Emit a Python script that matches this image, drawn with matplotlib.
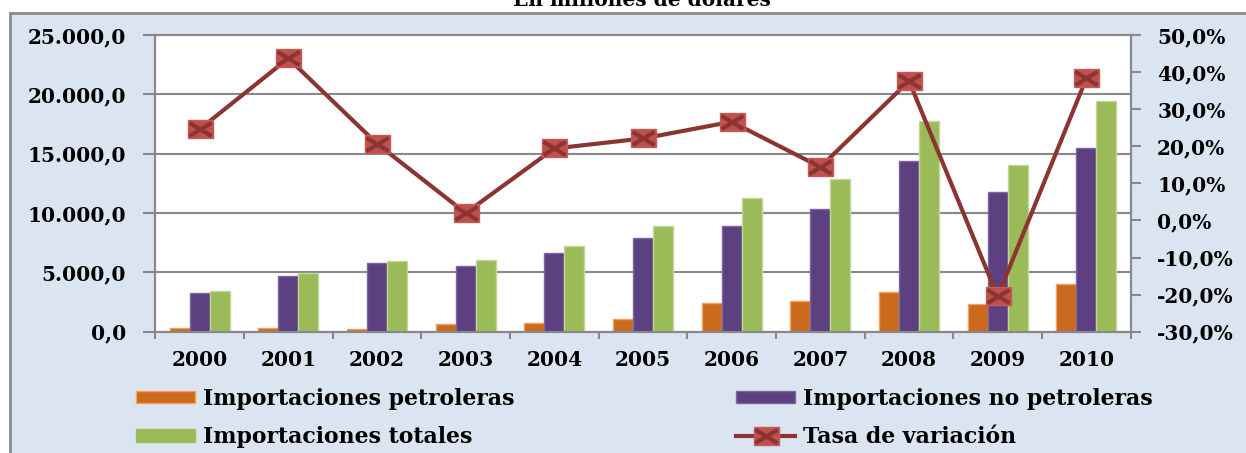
import numpy as np
import matplotlib
matplotlib.use("Agg")
import matplotlib.pyplot as plt
from matplotlib.path import Path
from matplotlib.patches import Rectangle, Patch
from matplotlib.legend_handler import HandlerTuple

plt.rcParams["font.family"] = ["DejaVu Serif"]
plt.rcParams["font.weight"] = "bold"

years = ["2000", "2001", "2002", "2003", "2004", "2005",
         "2006", "2007", "2008", "2009", "2010"]
petroleras = [300, 300, 250, 620, 730, 1070, 2390, 2590, 3350, 2340, 4050]
no_petroleras = [3240, 4730, 5800, 5550, 6590, 7880, 8890, 10330, 14420, 11800, 15460]
totales = [3440, 4930, 5970, 6080, 7260, 8890, 11260, 12900, 17760, 14080, 19480]
tasa = [24.6, 43.7, 20.7, 2.0, 19.4, 22.1, 26.6, 14.4, 37.6, -20.5, 38.3]

BG = "#dbe5f1"; GRID = "#888888"; EDGE = "#8a8a8a"
ORANGE = "#c96a1f"; PURPLE = "#5c4080"; GREEN = "#9bbb59"
LINE = "#8b3533"; MARK = "#c0504d"

W, H = 1246, 453
fig = plt.figure(figsize=(W / 100, H / 100), dpi=100)
fig.patch.set_facecolor("white")
fig.add_artist(Rectangle((10 / W, -0.05), 1.2, 1.05 - 13 / H, transform=fig.transFigure,
                         facecolor=BG, edgecolor=EDGE, lw=2, zorder=0))
# title sits mostly above the top edge, as in the source image
fig.text(642 / W, 1 - 6 / H, "En millones de dólares", ha="center", va="baseline",
         fontsize=14.5, fontweight="bold", color="black")

ax = fig.add_axes([155.3 / W, 1 - 331.7 / H, (1130.7 - 155.3) / W, (331.7 - 35) / H])
ax.set_facecolor("white")
x = np.arange(len(years))
bw = 0.226
ax.bar(x - bw, petroleras, bw, color=ORANGE, edgecolor="#f5a05a", lw=1, zorder=3)
ax.bar(x, no_petroleras, bw, color=PURPLE, edgecolor="#7e66a3", lw=1, zorder=3)
ax.bar(x + bw, totales, bw, color=GREEN, edgecolor="#c3d69b", lw=1, zorder=3)
ax.set_xlim(-0.5, len(years) - 0.5)
ax.set_ylim(0, 25000)
ax.set_yticks(np.arange(0, 25001, 5000))
ax.yaxis.set_major_formatter(lambda v, _: f"{v:,.1f}".replace(",", "X").replace(".", ",").replace("X", "."))
ax.grid(axis="y", color=GRID, lw=1.5, zorder=0)
ax.set_xticks(x)
ax.set_xticklabels(years)
ax.set_xticks(np.arange(-0.5, len(years), 1), minor=True)
ax.tick_params(axis="x", which="major", length=0, pad=13, labelsize=14.5)
ax.tick_params(axis="x", which="minor", length=5, width=1.5, color=GRID)
ax.tick_params(axis="y", length=9, width=1.5, color=GRID, pad=12, labelsize=14.5)
for sp in ax.spines.values():
    sp.set_color(GRID); sp.set_linewidth(1.5)

ax2 = ax.twinx()
rect = Path([(-1, -0.72), (1, -0.72), (1, 0.72), (-1, 0.72), (-1, -0.72)],
            [Path.MOVETO, Path.LINETO, Path.LINETO, Path.LINETO, Path.CLOSEPOLY])
cross = Path([(-1, -0.6), (1, 0.6), (-1, 0.6), (1, -0.6)],
             [Path.MOVETO, Path.LINETO, Path.MOVETO, Path.LINETO])
ln, = ax2.plot(x, tasa, color=LINE, lw=3, marker=rect, ms=18, mfc=MARK,
               mec="#c85a57", mew=1, zorder=4)
xm, = ax2.plot(x, tasa, ls="none", marker=cross, ms=16, mfc="none",
               mec=LINE, mew=3, zorder=5)
ax2.set_ylim(-30, 50)
ax2.set_yticks(np.arange(-30, 51, 10))
ax2.yaxis.set_major_formatter(lambda v, _: f"{v:.1f}%".replace(".", ","))
ax2.tick_params(axis="y", length=7, width=1.5, color=GRID, pad=12, labelsize=14.5)
for sp in ax2.spines.values():
    sp.set_color(GRID); sp.set_linewidth(1.5)

kw = dict(loc="center left", frameon=False, borderpad=0, borderaxespad=0,
          fontsize=15.8, handlelength=2.7, handleheight=0.5, handletextpad=0.35,
          labelspacing=0.75)
h_or = Patch(facecolor=ORANGE, edgecolor="#f5a05a")
h_pu = Patch(facecolor=PURPLE, edgecolor="#7e66a3")
h_gr = Patch(facecolor=GREEN, edgecolor=GREEN)
fig.legend([h_or, h_gr], ["Importaciones petroleras", "Importaciones totales"],
           bbox_to_anchor=(136 / W, 1 - 418 / H), **kw)
fig.legend([h_pu, (ln, xm)], ["Importaciones no petroleras", "Tasa de variación"],
           bbox_to_anchor=(736 / W, 1 - 418 / H),
           handler_map={tuple: HandlerTuple(ndivide=1)}, **kw)

fig.savefig("out.png", dpi=100, facecolor="white")
